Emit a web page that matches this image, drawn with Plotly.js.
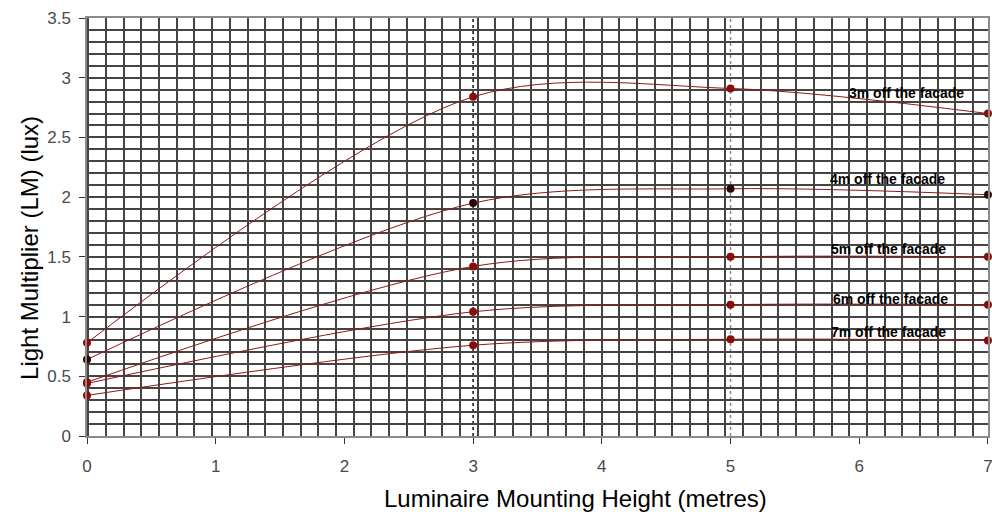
<!DOCTYPE html>
<html>
<head>
<meta charset="utf-8">
<script src="https://cdn.plot.ly/plotly-3.0.1.min.js"></script>
<style>html,body{margin:0;padding:0;background:#fff;}#chart{width:992px;height:516px;}</style>
</head>
<body>
<div id="chart"></div>
<script>
// Luminaire mounting heights (metres)
const heights = [0, 3, 5, 7];
// Light multiplier values per distance off the facade
const series3m = [0.78, 2.84, 2.91, 2.70];
const series4m = [0.64, 1.95, 2.07, 2.02];
const series5m = [0.45, 1.42, 1.50, 1.50];
const series6m = [0.44, 1.04, 1.10, 1.10];
const series7m = [0.34, 0.76, 0.81, 0.80];
const seriesNames = ['3m off the facade', '4m off the facade', '5m off the facade', '6m off the facade', '7m off the facade'];
// Label anchor positions (data units)
const labelX = [6.37, 6.22, 6.23, 6.24, 6.23];
const labelY = [2.876, 2.15, 1.564, 1.145, 0.87];
// Dashed reference lines
const dropLines = [3, 5];
const dropColors = ['#111111', '#888888'];
// Axis ticks and titles
const xTicks = [0, 1, 2, 3, 4, 5, 6, 7];
const xTitle = 'Luminaire Mounting Height (metres)';
const yTitle = 'Light Multiplier (LM) (lux)';

const allSeries = [series3m, series4m, series5m, series6m, series7m];
const markerColors = ['#8b0b0b', '#2a0606', '#8b0b0b', '#8b0b0b', '#8b0b0b'];

const traces = allSeries.map((ys, i) => ({
  x: heights, y: ys, type: 'scatter', mode: 'lines+markers', name: seriesNames[i],
  line: {color: '#8b1a1a', width: 1, shape: 'spline', smoothing: 0.9},
  marker: {color: markerColors[i], size: 8},
  cliponaxis: false, showlegend: false, hoverinfo: 'x+y'
}));

const shapes = dropLines.map((xv, i) => ({
  type: 'line', xref: 'x', yref: 'paper', x0: xv, x1: xv, y0: 0, y1: 1,
  line: {color: dropColors[i], width: 1.5, dash: 'dot'}, layer: 'below'
}));

const annotations = seriesNames.map((t, i) => ({
  x: labelX[i], y: labelY[i], xref: 'x', yref: 'y', text: t, showarrow: false,
  font: {family: 'Liberation Sans, Arial, sans-serif', size: 14, color: '#000', weight: 'bold'},
  xanchor: 'center', yanchor: 'middle'
}));
annotations.push({
  xref: 'paper', yref: 'paper', x: 0.5427, y: -0.1507, text: xTitle, showarrow: false,
  xanchor: 'center', yanchor: 'middle',
  font: {family: 'Liberation Sans, Arial, sans-serif', size: 24, color: '#000'}
});
annotations.push({
  xref: 'paper', yref: 'paper', x: -0.0633, y: 0.4498, text: yTitle, showarrow: false,
  xanchor: 'center', yanchor: 'middle', textangle: -90,
  font: {family: 'Liberation Sans, Arial, sans-serif', size: 24, color: '#000'}
});

const layout = {
  width: 992, height: 516,
  margin: {l: 87, r: 4, t: 18, b: 80},
  paper_bgcolor: '#fff', plot_bgcolor: '#fff',
  font: {family: 'Liberation Sans, Arial, sans-serif', color: '#333'},
  xaxis: {
    range: [0, 7.0005], tickvals: xTicks, ticklabeloverflow: 'allow',
    showgrid: false, zeroline: false,
    showline: true, linecolor: '#8a8a8a', linewidth: 2, mirror: true,
    ticks: 'outside', ticklen: 6, tickcolor: '#333', tickwidth: 1,
    tickfont: {size: 17, color: '#4a4a4a'}, ticklabelstandoff: 8,
    minor: {dtick: 0.1375, tick0: 0.1476, showgrid: true, gridcolor: '#444444', gridwidth: 2}
  },
  yaxis: {
    range: [0, 3.5], dtick: 0.5, tick0: 0, showgrid: true, gridcolor: '#444444', gridwidth: 2, zeroline: false,
    showline: true, linecolor: '#8a8a8a', linewidth: 2, mirror: true, ticklabeloverflow: 'allow',
    ticks: 'outside', ticklen: 6, tickcolor: '#333', tickwidth: 1, ticksuffix: '\u00a0',
    tickfont: {size: 17, color: '#4a4a4a'},
    minor: {dtick: 0.1, tick0: 0, showgrid: true, gridcolor: '#444444', gridwidth: 2}
  },
  shapes: shapes,
  annotations: annotations,
  showlegend: false
};

Plotly.newPlot('chart', traces, layout, {displayModeBar: false, staticPlot: true});
</script>
</body>
</html>
